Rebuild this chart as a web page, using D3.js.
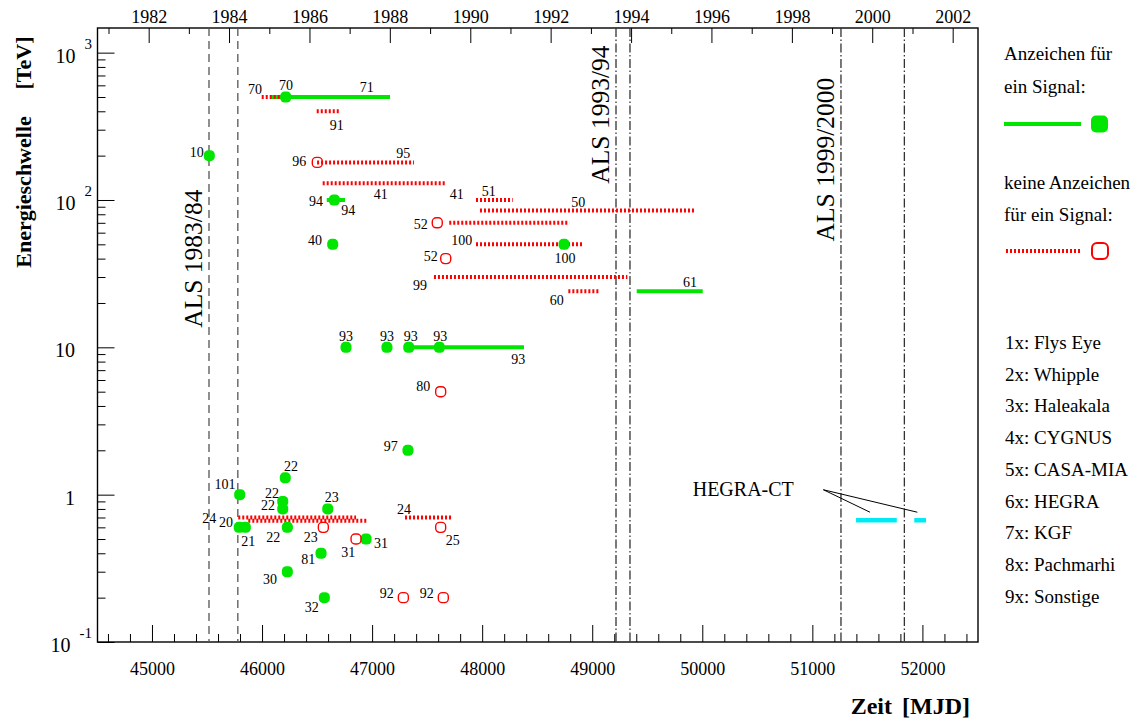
<!DOCTYPE html>
<html>
<head>
<meta charset="utf-8">
<script src="https://cdn.jsdelivr.net/npm/d3@7"></script>
<style>
  body { margin: 0; background: #fff; }
  svg text { font-family: "Liberation Serif", "Times New Roman", serif; fill: #000; }
</style>
</head>
<body>
<script>
// signal seen over a time span: [from MJD, to MJD, threshold TeV]
const signalSpans = [
  [46072, 47163, 500],
  [46588, 46754, 100],
  [47299, 48380, 10],
  [49404, 50004, 24]
];
// single signal observations: [MJD, TeV]
const signalPoints = [
  [46215, 500], [45521, 200], [46657, 100], [46642, 50], [48744, 50],
  [46763, 10], [47135, 10], [47333, 10], [47611, 10], [47326, 2],
  [46211, 1.3], [45797, 1.0], [46188, 0.9], [46188, 0.8], [46597, 0.8],
  [45793, 0.6], [45848, 0.6], [46230, 0.6], [46945, 0.5], [46536, 0.4],
  [46230, 0.3], [46566, 0.2]
];
// no signal over a time span
const limitSpans = [
  [45997, 46193, 500],
  [46497, 46715, 400],
  [46500, 47381, 180],
  [46551, 47671, 130],
  [47944, 48277, 100],
  [47980, 49934, 85],
  [47701, 48792, 70],
  [47944, 48925, 50],
  [47562, 49319, 30],
  [48783, 49064, 24],
  [45784, 46854, 0.7],
  [45875, 46951, 0.665],
  [47299, 47732, 0.7]
];
// single observations without signal
const limitPoints = [
  [46502, 180], [47592, 70], [47669, 40], [47623, 5], [46557, 0.6],
  [47623, 0.6], [46854, 0.5], [47284, 0.2], [47647, 0.2]
];
// HEGRA-CT observation periods
const hegraCtSpans = [[51397, 51767, 0.67], [51926, 52033, 0.67]];
const hegraCtNote = ["HEGRA-CT", 49913, 1.09];
const hegraCtPointer = [[51100, 1.08], [51524, 0.76], [51954, 0.76]];

// ALS flare periods
const alsNames = ["ALS 1983/84", "ALS 1993/94", "ALS 1999/2000"];
const alsStart = [45518, 49216, 51260];
const alsEnd = [45780, 49343, 51836];
const alsLabelTeV = [40, 380, 188];

// experiment codes next to the marks: [text, MJD, TeV]
const codeLabels = [
  ["70", 45936, 567], ["70", 46218, 606], ["71", 46951, 585], ["91", 46678, 321],
  ["96", 46339, 183], ["95", 47284, 208], ["41", 47078, 110], ["94", 46490, 97.7],
  ["94", 46784, 84.9], ["51", 48059, 115.6], ["50", 48874, 96.2], ["52", 47442, 69],
  ["41", 47769, 109.7], ["40", 46481, 53.1], ["100", 47814, 53.7], ["100", 48753, 40.3],
  ["52", 47532, 41.4], ["99", 47435, 26.6], ["60", 48677, 21.0], ["61", 49888, 27.5],
  ["10", 45406, 210], ["93", 46763, 12], ["93", 47135, 12], ["93", 47352, 12],
  ["93", 47620, 12], ["93", 48328, 8.3], ["80", 47465, 5.42], ["97", 47169, 2.14],
  ["22", 46263, 1.57], ["101", 45663, 1.18], ["22", 46091, 1.02], ["22", 46054, 0.844],
  ["23", 46633, 0.97], ["24", 45521, 0.69], ["20", 45673, 0.653], ["21", 45875, 0.483],
  ["22", 46102, 0.514], ["23", 46442, 0.514], ["31", 46784, 0.41], ["31", 47081, 0.468],
  ["24", 47290, 0.796], ["25", 47732, 0.488], ["81", 46420, 0.368], ["30", 46072, 0.268],
  ["32", 46451, 0.172], ["92", 47133, 0.214], ["92", 47496, 0.214]
];

const experiments = ["1x: Flys Eye", "2x: Whipple", "3x: Haleakala", "4x: CYGNUS",
  "5x: CASA-MIA", "6x: HEGRA", "7x: KGF", "8x: Pachmarhi", "9x: Sonstige"];

const mjdTicksMajor = d3.range(45000, 52001, 1000);
const mjdTicksMinor = d3.range(44600, 52401, 200).filter(d => d % 1000 !== 0);
const yearsMajor = d3.range(1982, 2003, 2);
const yearsMinor = d3.range(1981, 2003, 2);
const decades = [0.1, 1, 10, 100, 1000];

const GREEN = "#00e600", RED = "#ff0000", CYAN = "#00eaf5";
const W = 1144, H = 720;
const L = 97.5, R = 978, T = 28, B = 642;

const svg = d3.select("body").append("svg").attr("width", W).attr("height", H);

const x = d3.scaleLinear().domain([44505, 52505]).range([L, R]);
const y = d3.scaleLog().domain([0.1, 1470]).range([B, T]);

// calendar scale on top, same pixels as MJD
const mjdToDate = m => new Date((m - 40587) * 864e5);
const t = d3.scaleUtc().domain(x.domain().map(mjdToDate)).range(x.range());
const yearDate = yr => new Date(Date.UTC(yr, 0, 1));

function clean(g) { g.select(".domain").remove(); }

svg.append("g").attr("transform", `translate(0,${B})`)
  .call(d3.axisBottom(x).tickValues(mjdTicksMajor).tickSize(-17).tickPadding(20).tickFormat(d3.format("d")))
  .call(clean).attr("font-size", 18).attr("font-family", null);
svg.append("g").attr("transform", `translate(0,${B})`)
  .call(d3.axisBottom(x).tickValues(mjdTicksMinor).tickSize(-8).tickFormat(""))
  .call(clean);

svg.append("g").attr("transform", `translate(0,${T})`)
  .call(d3.axisTop(t).tickValues(yearsMajor.map(yearDate)).tickSize(-15).tickPadding(5).tickFormat(d3.utcFormat("%Y")))
  .call(clean).attr("font-size", 18).attr("font-family", null);
svg.append("g").attr("transform", `translate(0,${T})`)
  .call(d3.axisTop(t).tickValues(yearsMinor.map(yearDate)).tickSize(-6).tickFormat(""))
  .call(clean);

const minorE = [];
decades.slice(0, 4).forEach(d => d3.range(2, 10).forEach(k => minorE.push(d * k)));
svg.append("g").attr("transform", `translate(${L},0)`)
  .call(d3.axisLeft(y).tickValues(decades).tickSize(-17).tickFormat(""))
  .call(clean);
svg.append("g").attr("transform", `translate(${L},0)`)
  .call(d3.axisLeft(y).tickValues(minorE).tickSize(-8).tickFormat(""))
  .call(clean);

// decade labels
decades.forEach(v => {
  const e = Math.round(Math.log10(v));
  const txt = svg.append("text").attr("y", y(v) + 10).attr("font-size", 20).attr("text-anchor", "end");
  if (e === 0 || e === 1) {
    txt.attr("x", 75).text(e === 0 ? "1" : "10");
  } else {
    txt.attr("x", 92).text("10");
    txt.append("tspan").attr("dx", 9).attr("dy", -14).attr("font-size", 15).text(String(e));
  }
});

svg.append("rect").attr("x", L).attr("y", T).attr("width", R - L).attr("height", B - T)
  .attr("fill", "none").attr("stroke", "#000").attr("stroke-width", 1.4);

// ALS periods
alsNames.forEach((name, i) => {
  const dash = i === 0 ? "8,5" : "9,2.5,1.5,2.5";
  [alsStart[i], alsEnd[i]].forEach(m => {
    svg.append("line").attr("x1", x(m)).attr("x2", x(m)).attr("y1", T).attr("y2", B)
      .attr("stroke", i === 0 ? "#555" : "#333").attr("stroke-width", 1.3).attr("stroke-dasharray", dash);
  });
  svg.append("text")
    .attr("transform", `translate(${x(alsStart[i]) - 7},${y(alsLabelTeV[i])}) rotate(-90)`)
    .attr("text-anchor", "middle").attr("font-size", 25.5).text(name);
});

// marks
svg.append("g").selectAll("line").data(signalSpans).join("line")
  .attr("x1", d => x(d[0])).attr("x2", d => x(d[1]))
  .attr("y1", d => y(d[2])).attr("y2", d => y(d[2]))
  .attr("stroke", GREEN).attr("stroke-width", 4);

svg.append("g").selectAll("line").data(limitSpans).join("line")
  .attr("x1", d => x(d[0])).attr("x2", d => x(d[1]))
  .attr("y1", d => y(d[2])).attr("y2", d => y(d[2]))
  .attr("stroke", RED).attr("stroke-width", 4).attr("stroke-dasharray", "2,2");

svg.append("g").selectAll("line").data(hegraCtSpans).join("line")
  .attr("x1", d => x(d[0])).attr("x2", d => x(d[1]))
  .attr("y1", d => y(d[2])).attr("y2", d => y(d[2]))
  .attr("stroke", CYAN).attr("stroke-width", 4.5);

svg.append("g").selectAll("rect").data(signalPoints).join("rect")
  .attr("x", d => x(d[0]) - 5.5).attr("y", d => y(d[1]) - 5.5)
  .attr("width", 11).attr("height", 11).attr("rx", 4.5)
  .attr("fill", GREEN);

svg.append("g").selectAll("rect").data(limitPoints).join("rect")
  .attr("x", d => x(d[0]) - 5).attr("y", d => y(d[1]) - 5)
  .attr("width", 10).attr("height", 10).attr("rx", 4)
  .attr("fill", "none").attr("stroke", RED).attr("stroke-width", 1.4);

svg.append("g").selectAll("text").data(codeLabels).join("text")
  .attr("x", d => x(d[1])).attr("y", d => y(d[2]))
  .attr("dy", "0.35em").attr("text-anchor", "middle").attr("font-size", 14)
  .text(d => d[0]);

// HEGRA-CT note with pointer lines
svg.append("text").attr("x", x(hegraCtNote[1])).attr("y", y(hegraCtNote[2])).attr("dy", "0.35em")
  .attr("font-size", 20).text(hegraCtNote[0]);
hegraCtPointer.slice(1).forEach(p => {
  svg.append("line")
    .attr("x1", x(hegraCtPointer[0][0])).attr("y1", y(hegraCtPointer[0][1]))
    .attr("x2", x(p[0])).attr("y2", y(p[1]))
    .attr("stroke", "#000").attr("stroke-width", 1);
});

// axis titles
svg.append("text").attr("transform", "translate(31,192) rotate(-90)")
  .attr("text-anchor", "middle").attr("font-size", 22).attr("font-weight", "bold").text("Energieschwelle");
svg.append("text").attr("transform", "translate(31,63) rotate(-90)")
  .attr("text-anchor", "middle").attr("font-size", 22).attr("font-weight", "bold").text("[TeV]");
const xt = svg.append("text").attr("x", 970).attr("y", 714).attr("text-anchor", "end")
  .attr("font-size", 24).attr("font-weight", "bold");
xt.append("tspan").text("Zeit");
xt.append("tspan").attr("dx", 10).text("[MJD]");

// legend
const lg = svg.append("g").attr("font-size", 19);
lg.append("text").attr("x", 1004).attr("y", 59.5).text("Anzeichen für");
lg.append("text").attr("x", 1004).attr("y", 93).text("ein Signal:");
lg.append("line").attr("x1", 1004).attr("x2", 1081).attr("y1", 124).attr("y2", 124)
  .attr("stroke", GREEN).attr("stroke-width", 4);
lg.append("rect").attr("x", 1091).attr("y", 115.5).attr("width", 17).attr("height", 17).attr("rx", 5)
  .attr("fill", GREEN);
lg.append("text").attr("x", 1004).attr("y", 189).text("keine Anzeichen");
lg.append("text").attr("x", 1004).attr("y", 221).text("für ein Signal:");
lg.append("line").attr("x1", 1006).attr("x2", 1081).attr("y1", 251).attr("y2", 251)
  .attr("stroke", RED).attr("stroke-width", 4).attr("stroke-dasharray", "2,2");
lg.append("rect").attr("x", 1092).attr("y", 243).attr("width", 16).attr("height", 16).attr("rx", 5)
  .attr("fill", "none").attr("stroke", RED).attr("stroke-width", 2);
lg.selectAll("text.exp").data(experiments).join("text").attr("class", "exp")
  .attr("x", 1005).attr("y", (d, i) => 349 + i * 31.7).text(d => d);
</script>
</body>
</html>
